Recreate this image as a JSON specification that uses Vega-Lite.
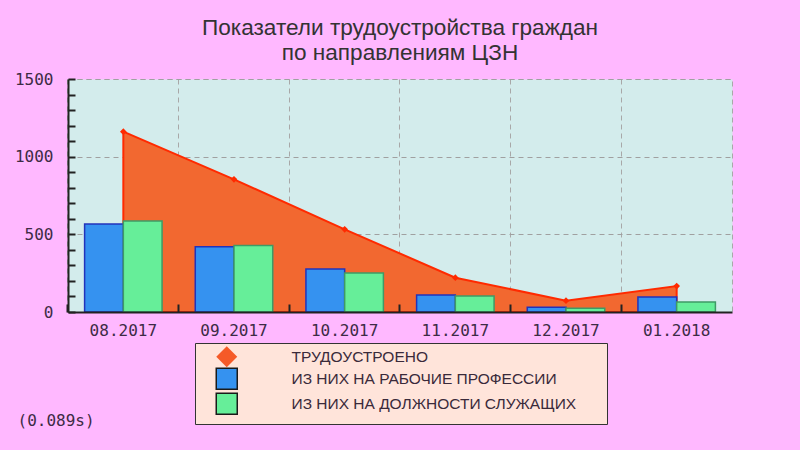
{
  "$schema": "https://vega.github.io/schema/vega-lite/v6.json",
  "width": 664,
  "height": 233,
  "autosize": {"type": "none"},
  "padding": {"left": 68, "top": 79, "right": 68, "bottom": 138},
  "background": "#ffb8ff",
  "title": {
    "text": ["Показатели трудоустройства граждан", "по направлениям ЦЗН"],
    "font": "Liberation Sans",
    "fontSize": 22.6,
    "fontWeight": "normal",
    "color": "#333333",
    "anchor": "middle",
    "frame": "group",
    "lineHeight": 25,
    "offset": 6
  },
  "config": {
    "view": {"fill": "#d3ecec", "stroke": "#a8a8a8", "strokeDash": [5, 4]}
  },
  "data": {
    "values": [
      {"month": "08.2017", "series": "ТРУДОУСТРОЕНО", "value": 1161},
      {"month": "09.2017", "series": "ТРУДОУСТРОЕНО", "value": 854},
      {"month": "10.2017", "series": "ТРУДОУСТРОЕНО", "value": 532},
      {"month": "11.2017", "series": "ТРУДОУСТРОЕНО", "value": 221},
      {"month": "12.2017", "series": "ТРУДОУСТРОЕНО", "value": 73},
      {"month": "01.2018", "series": "ТРУДОУСТРОЕНО", "value": 167},
      {"month": "08.2017", "series": "ИЗ НИХ НА РАБОЧИЕ ПРОФЕССИИ", "value": 566},
      {"month": "09.2017", "series": "ИЗ НИХ НА РАБОЧИЕ ПРОФЕССИИ", "value": 420},
      {"month": "10.2017", "series": "ИЗ НИХ НА РАБОЧИЕ ПРОФЕССИИ", "value": 277},
      {"month": "11.2017", "series": "ИЗ НИХ НА РАБОЧИЕ ПРОФЕССИИ", "value": 109},
      {"month": "12.2017", "series": "ИЗ НИХ НА РАБОЧИЕ ПРОФЕССИИ", "value": 30},
      {"month": "01.2018", "series": "ИЗ НИХ НА РАБОЧИЕ ПРОФЕССИИ", "value": 97},
      {"month": "08.2017", "series": "ИЗ НИХ НА ДОЛЖНОСТИ СЛУЖАЩИХ", "value": 586},
      {"month": "09.2017", "series": "ИЗ НИХ НА ДОЛЖНОСТИ СЛУЖАЩИХ", "value": 428},
      {"month": "10.2017", "series": "ИЗ НИХ НА ДОЛЖНОСТИ СЛУЖАЩИХ", "value": 251},
      {"month": "11.2017", "series": "ИЗ НИХ НА ДОЛЖНОСТИ СЛУЖАЩИХ", "value": 103},
      {"month": "12.2017", "series": "ИЗ НИХ НА ДОЛЖНОСТИ СЛУЖАЩИХ", "value": 24},
      {"month": "01.2018", "series": "ИЗ НИХ НА ДОЛЖНОСТИ СЛУЖАЩИХ", "value": 64}
    ]
  },
  "layer": [
    {
      "transform": [{"filter": "datum.series === 'ТРУДОУСТРОЕНО'"}],
      "mark": {"type": "area", "fill": "#f26830", "stroke": "#ff2a00", "strokeWidth": 2, "fillOpacity": 1},
      "encoding": {
        "x": {
          "field": "month", "type": "ordinal",
          "sort": ["08.2017", "09.2017", "10.2017", "11.2017", "12.2017", "01.2018"],
          "bandPosition": 0.5,
          "scale": {"paddingInner": 0.3, "paddingOuter": 0.15},
          "axis": {
            "orient": "bottom",
            "bandPosition": -0.2143,
            "grid": true, "gridColor": "#a8a8a8", "gridDash": [5, 4], "gridWidth": 1,
            "labels": false, "ticks": false, "domain": false,
            "zindex": 0,
            "title": "(0.089s)",
            "titleFont": "DejaVu Sans Mono", "titleFontSize": 16, "titleFontWeight": "normal",
            "titleColor": "#3d2b45",
            "titleAlign": "left", "titleBaseline": "middle", "titleAnchor": "start",
            "titleX": -51, "titleY": 108
          }
        },
        "y": {
          "field": "value", "type": "quantitative",
          "scale": {"domain": [0, 1500], "nice": false, "zero": true},
          "axis": {
            "orient": "left",
            "values": [0, 500, 1000, 1500],
            "format": "d",
            "grid": true, "gridColor": "#a0a0a0", "gridDash": [5, 4], "gridWidth": 1,
            "ticks": false, "domain": false,
            "labelFont": "DejaVu Sans Mono", "labelFontSize": 16, "labelColor": "#3d2b45",
            "labelPadding": 15,
            "title": null,
            "zindex": 0
          }
        }
      }
    },
    {
      "transform": [{"filter": "datum.series !== 'ТРУДОУСТРОЕНО'"}],
      "mark": {"type": "bar", "strokeWidth": 1.5},
      "encoding": {
        "x": {
          "field": "month", "type": "ordinal",
          "sort": ["08.2017", "09.2017", "10.2017", "11.2017", "12.2017", "01.2018"],
          "axis": {
            "orient": "bottom",
            "grid": false, "ticks": false, "domain": false,
            "labelAngle": 0,
            "labelFont": "DejaVu Sans Mono", "labelFontSize": 16, "labelColor": "#3d2b45",
            "labelPadding": 10,
            "title": null,
            "zindex": 1
          }
        },
        "xOffset": {
          "field": "series", "type": "nominal",
          "sort": ["ИЗ НИХ НА РАБОЧИЕ ПРОФЕССИИ", "ИЗ НИХ НА ДОЛЖНОСТИ СЛУЖАЩИХ"]
        },
        "y": {"field": "value", "type": "quantitative", "axis": null},
        "fill": {
          "field": "series", "type": "nominal",
          "scale": {"domain": ["ИЗ НИХ НА РАБОЧИЕ ПРОФЕССИИ", "ИЗ НИХ НА ДОЛЖНОСТИ СЛУЖАЩИХ"], "range": ["#3592f0", "#66ee99"]},
          "legend": null
        },
        "stroke": {
          "field": "series", "type": "nominal",
          "scale": {"domain": ["ИЗ НИХ НА РАБОЧИЕ ПРОФЕССИИ", "ИЗ НИХ НА ДОЛЖНОСТИ СЛУЖАЩИХ"], "range": ["#2233bb", "#3f9a66"]},
          "legend": null
        }
      }
    },
    {
      "transform": [{"filter": "datum.series === 'ТРУДОУСТРОЕНО'"}],
      "mark": {"type": "point", "shape": "diamond", "filled": true, "size": 45, "color": "#ff2a00", "opacity": 1},
      "encoding": {
        "x": {
          "field": "month", "type": "ordinal",
          "sort": ["08.2017", "09.2017", "10.2017", "11.2017", "12.2017", "01.2018"],
          "bandPosition": 0.5,
          "axis": {
            "orient": "bottom",
            "bandPosition": -0.2143,
            "grid": false, "labels": false,
            "ticks": true, "tickSize": -8, "tickWidth": 2, "tickColor": "#222222",
            "domain": true, "domainColor": "#222222", "domainWidth": 2,
            "title": null,
            "zindex": 1
          }
        },
        "y": {
          "field": "value", "type": "quantitative",
          "axis": {
            "orient": "left",
            "values": [0, 100, 200, 300, 400, 500, 600, 700, 800, 900, 1000, 1100, 1200, 1300, 1400, 1500],
            "grid": false, "labels": false,
            "ticks": true, "tickSize": -7, "tickWidth": 2, "tickColor": "#222222",
            "domain": true, "domainColor": "#222222", "domainWidth": 2,
            "title": null,
            "zindex": 1
          }
        }
      }
    },
    {
      "mark": {"type": "point", "filled": true, "opacity": 0},
      "encoding": {
        "x": {
          "field": "month", "type": "ordinal",
          "sort": ["08.2017", "09.2017", "10.2017", "11.2017", "12.2017", "01.2018"],
          "bandPosition": 0.5,
          "axis": null
        },
        "y": {"field": "value", "type": "quantitative", "axis": null},
        "color": {
          "field": "series", "type": "nominal",
          "scale": {
            "domain": ["ТРУДОУСТРОЕНО", "ИЗ НИХ НА РАБОЧИЕ ПРОФЕССИИ", "ИЗ НИХ НА ДОЛЖНОСТИ СЛУЖАЩИХ"],
            "range": ["#f55a28", "#3592f0", "#66ee99"]
          },
          "legend": {
            "title": null,
            "orient": "none",
            "legendX": 127,
            "legendY": 264,
            "fillColor": "#ffe4da",
            "strokeColor": "#333333",
            "padding": 6,
            "symbolOffset": 18,
            "symbolSize": 441,
            "symbolOpacity": 1,
            "symbolStrokeColor": "#1a1a1a",
            "symbolStrokeWidth": 1.5,
            "rowPadding": -3,
            "labelOffset": 57,
            "labelFont": "Liberation Sans",
            "labelFontSize": 15.5,
            "labelColor": "#3a2a3a",
            "labelLimit": 400,
            "labelExpr": "datum.label + '\u2800\u2800'",
            "encode": {
              "symbols": {
                "update": {
                  "stroke": {"value": "#1a1a1a"},
                  "strokeWidth": {"signal": "datum.value === 'ТРУДОУСТРОЕНО' ? 0 : 1.5"},
                  "opacity": {"value": 1}
                }
              }
            }
          }
        },
        "shape": {
          "field": "series", "type": "nominal",
          "scale": {
            "domain": ["ТРУДОУСТРОЕНО", "ИЗ НИХ НА РАБОЧИЕ ПРОФЕССИИ", "ИЗ НИХ НА ДОЛЖНОСТИ СЛУЖАЩИХ"],
            "range": ["diamond", "square", "square"]
          },
          "legend": null
        }
      }
    }
  ],
  "resolve": {"axis": {"x": "independent", "y": "independent"}}
}
